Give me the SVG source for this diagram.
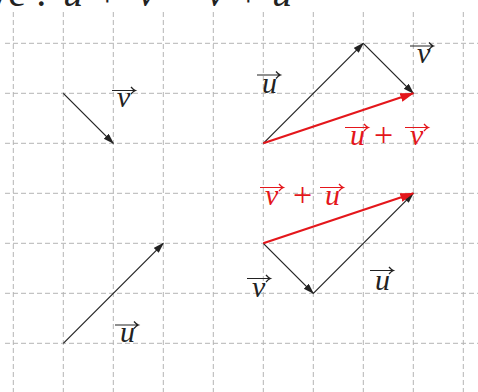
<svg xmlns="http://www.w3.org/2000/svg" xmlns:xlink="http://www.w3.org/1999/xlink" width="478" height="392" viewBox="0 0 478 392">
<style>
.grid line{stroke:#b4b4b4;stroke-width:1;stroke-dasharray:5 3}
.vec{stroke:#222;stroke-width:1.2;fill:none}
.sum{stroke:#e4161b;stroke-width:2.2;fill:none}
.m{font-family:"Liberation Serif","Times New Roman",serif;font-style:italic;font-size:30px}
.op{font-family:"Liberation Serif","Times New Roman",serif;font-size:34px}
.t{font-family:"Liberation Serif","Times New Roman",serif;font-size:40px;fill:#222}
.ti{font-style:italic}
.k{fill:#222}
.r{fill:#e4161b}
.ka{stroke:#222;stroke-width:1.2;fill:none}
.ra{stroke:#e4161b;stroke-width:1.2;fill:none}
</style>
<defs>
<marker id="ah" markerWidth="12" markerHeight="8" refX="10" refY="3.5" orient="auto" markerUnits="userSpaceOnUse"><path d="M0,0 L11,3.5 L0,7 z" fill="#222"/></marker>
<marker id="rh" markerWidth="16" markerHeight="10" refX="13" refY="4.5" orient="auto" markerUnits="userSpaceOnUse"><path d="M0,0 L14,4.5 L0,9 z" fill="#e4161b"/></marker>
<path id="va" d="M0,0 H23 M19,-3.5 Q21.2,-0.8 23.5,0 Q21.2,0.8 19,3.5"/>
</defs>
<g class="grid">
<line x1="13.3" y1="12" x2="13.3" y2="392"/>
<line x1="63.3" y1="12" x2="63.3" y2="392"/>
<line x1="113.3" y1="12" x2="113.3" y2="392"/>
<line x1="163.3" y1="12" x2="163.3" y2="392"/>
<line x1="213.3" y1="12" x2="213.3" y2="392"/>
<line x1="263.3" y1="12" x2="263.3" y2="392"/>
<line x1="313.3" y1="12" x2="313.3" y2="392"/>
<line x1="363.3" y1="12" x2="363.3" y2="392"/>
<line x1="413.3" y1="12" x2="413.3" y2="392"/>
<line x1="463.3" y1="12" x2="463.3" y2="392"/>
<line x1="5" y1="43.3" x2="478" y2="43.3"/>
<line x1="5" y1="93.3" x2="478" y2="93.3"/>
<line x1="5" y1="143.3" x2="478" y2="143.3"/>
<line x1="5" y1="193.3" x2="478" y2="193.3"/>
<line x1="5" y1="243.3" x2="478" y2="243.3"/>
<line x1="5" y1="293.3" x2="478" y2="293.3"/>
<line x1="5" y1="343.3" x2="478" y2="343.3"/>
</g>
<g id="title">
<text class="t" x="-12" y="6">ve :</text>
<text class="t ti" x="63" y="6">u</text>
<text class="t" x="96" y="6">+</text>
<text class="t ti" x="138" y="6">v</text>
<text class="t" x="171" y="6">=</text>
<text class="t ti" x="207" y="6">v</text>
<text class="t" x="237" y="6">+</text>
<text class="t ti" x="272" y="6">u</text>
</g>
<g id="connectors">
<line id="v-left" class="vec" x1="63.3" y1="93.3" x2="113.3" y2="143.3" marker-end="url(#ah)"/>
<line id="u-left" class="vec" x1="63.3" y1="343.3" x2="163.3" y2="243.3" marker-end="url(#ah)"/>
<line id="u-top" class="vec" x1="263.3" y1="143.3" x2="363.3" y2="43.3" marker-end="url(#ah)"/>
<line id="v-top" class="vec" x1="363.3" y1="43.3" x2="413.3" y2="93.3" marker-end="url(#ah)"/>
<line id="uv-sum" class="sum" x1="263.3" y1="143.3" x2="413.3" y2="93.3" marker-end="url(#rh)"/>
<line id="v-bot" class="vec" x1="263.3" y1="243.3" x2="313.3" y2="293.3" marker-end="url(#ah)"/>
<line id="u-bot" class="vec" x1="313.3" y1="293.3" x2="413.3" y2="193.3" marker-end="url(#ah)"/>
<line id="vu-sum" class="sum" x1="263.3" y1="243.3" x2="413.3" y2="193.3" marker-end="url(#rh)"/>
</g>
<g id="label-v-left"><text class="m k" x="117" y="107">v</text><use xlink:href="#va" href="#va" class="ka" x="112" y="90.5"/></g>
<g id="label-u-left"><text class="m k" x="120" y="342">u</text><use xlink:href="#va" href="#va" class="ka" x="115" y="325"/></g>
<g id="label-u-top"><text class="m k" x="262" y="93">u</text><use xlink:href="#va" href="#va" class="ka" x="257" y="75"/></g>
<g id="label-v-top"><text class="m k" x="417" y="63">v</text><use xlink:href="#va" href="#va" class="ka" x="410" y="46"/></g>
<g id="label-uv-sum">
<text class="m r" x="350" y="145">u</text><use xlink:href="#va" href="#va" class="ra" x="345" y="127.5"/>
<text class="op r" x="374" y="146">+</text>
<text class="m r" x="410" y="145">v</text><use xlink:href="#va" href="#va" class="ra" x="405" y="127.5"/>
</g>
<g id="label-vu-sum">
<text class="m r" x="265" y="205">v</text><use xlink:href="#va" href="#va" class="ra" x="260" y="187.5"/>
<text class="op r" x="293" y="206">+</text>
<text class="m r" x="325" y="205">u</text><use xlink:href="#va" href="#va" class="ra" x="320" y="187.5"/>
</g>
<g id="label-v-bot"><text class="m k" x="252" y="297">v</text><use xlink:href="#va" href="#va" class="ka" x="247" y="278.5"/></g>
<g id="label-u-bot"><text class="m k" x="375" y="290">u</text><use xlink:href="#va" href="#va" class="ka" x="370" y="270.5"/></g>
</svg>
